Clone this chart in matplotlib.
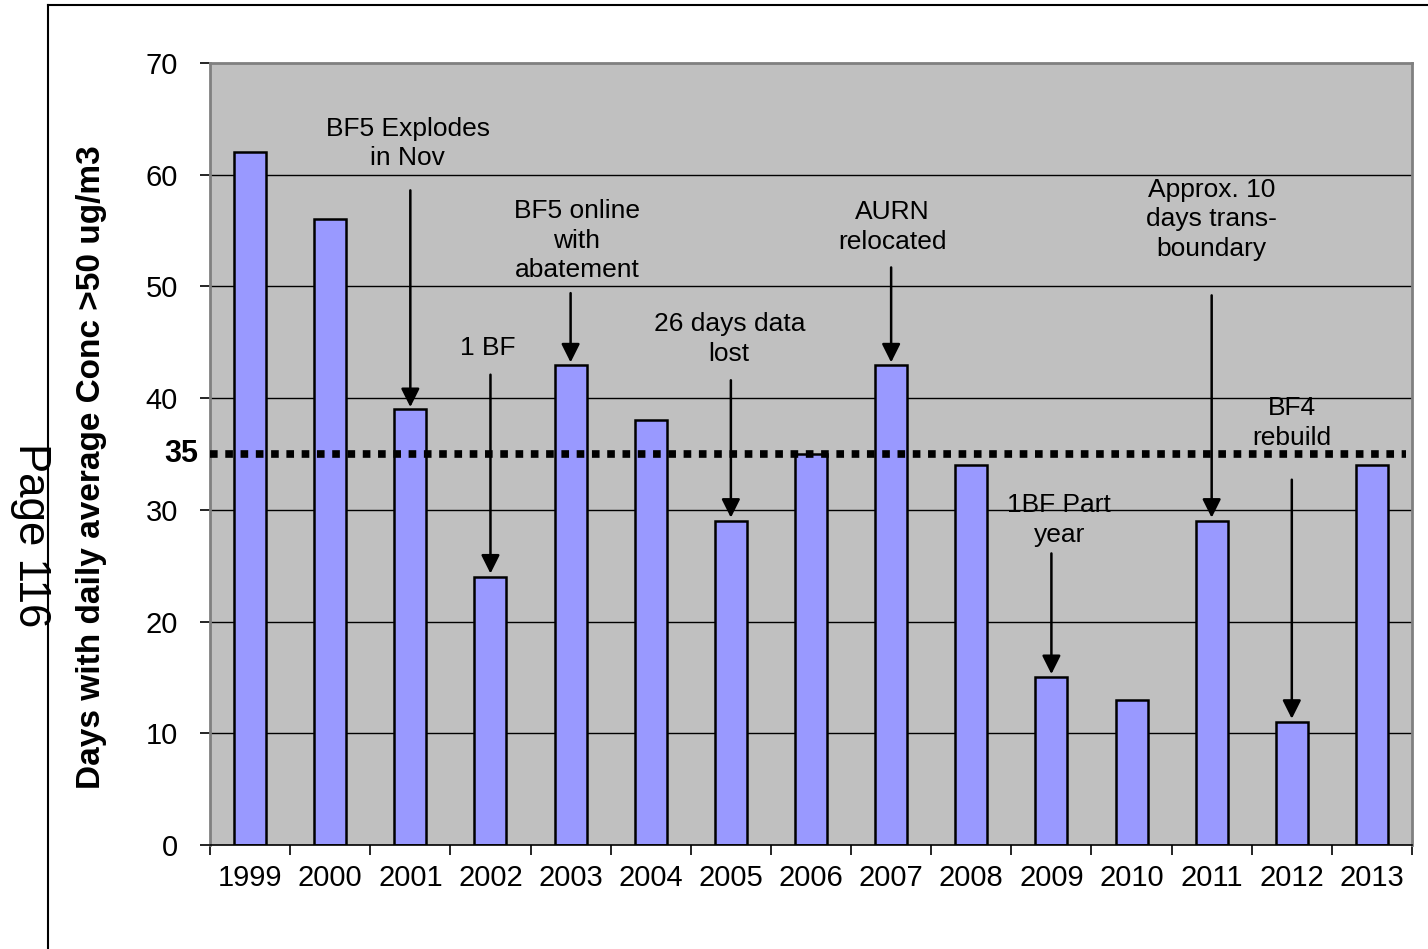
import matplotlib
matplotlib.use("Agg")
import matplotlib.pyplot as plt
from matplotlib.lines import Line2D

plt.rcParams['font.family'] = ['Liberation Sans', 'DejaVu Sans']

years = ['1999', '2000', '2001', '2002', '2003', '2004', '2005', '2006',
         '2007', '2008', '2009', '2010', '2011', '2012', '2013']
days = [62, 56, 39, 24, 43, 38, 29, 35, 43, 34, 15, 13, 29, 11, 34]
limit = 35
y_ticks = [0, 10, 20, 30, 40, 50, 60, 70]

# Annotation notes: label text, label position (category idx, value),
# arrow x (category idx), arrow start and end values
notes = [
    ("BF5 Explodes\nin Nov", 1.97, 62.8, 2, 58.6, 39.2),
    ("1 BF", 2.97, 44.5, 3, 42.1, 24.3),
    ("BF5 online\nwith\nabatement", 4.08, 54.1, 4, 49.4, 43.2),
    ("26 days data\nlost", 5.98, 45.3, 6, 41.6, 29.3),
    ("AURN\nrelocated", 8.02, 55.3, 8, 51.7, 43.2),
    ("1BF Part\nyear", 10.1, 29.1, 10, 26.1, 15.3),
    ("Approx. 10\ndays trans-\nboundary", 12.0, 56.0, 12, 49.2, 29.3),
    ("BF4\nrebuild", 13.0, 37.8, 13, 32.7, 11.3),
]

fig = plt.figure(figsize=(14.28, 9.49), dpi=100)
ax = fig.add_axes([210 / 1428, 1 - 845 / 949, 1202 / 1428, 782 / 949])
ax.set_facecolor('#C0C0C0')

x = list(range(len(years)))
ax.set_xlim(0, len(years))
ax.set_ylim(0, 70)

# Horizontal gridlines
for v in y_ticks[1:-1]:
    ax.axhline(v, color='black', lw=1.0, zorder=1)

ax.bar([i + 0.5 for i in x], days, width=0.4, color='#9999FF',
       edgecolor='black', linewidth=1.8, zorder=2)

# Limit line
ax.axhline(limit, xmin=0, xmax=0.995, color='black', lw=5.5,
           linestyle=(0, (1, 1)), dash_capstyle='butt', zorder=3)
ax.text(-0.01, limit, str(limit), transform=ax.get_yaxis_transform(),
        ha='right', va='center', fontsize=22, fontweight='bold')

for label, tx, ty, ax_x, y0, y1 in notes:
    ax.text(tx + 0.5, ty, label, ha='center', va='center', fontsize=19,
            linespacing=1.3, zorder=4)
    ax.annotate('', xy=(ax_x + 0.5, y1), xytext=(ax_x + 0.5, y0),
                arrowprops=dict(arrowstyle='-|>', color='black', lw=1.8,
                                mutation_scale=28, shrinkA=0, shrinkB=0),
                zorder=4)

# Axes styling
for side in ['top', 'right', 'left']:
    ax.spines[side].set_color('#808080')
    ax.spines[side].set_linewidth(2)
ax.spines['bottom'].set_color('black')
ax.spines['bottom'].set_linewidth(1.2)

ax.set_yticks(y_ticks)
ax.set_yticklabels([str(v) for v in y_ticks], fontsize=21)
ax.tick_params(axis='y', direction='out', length=7, width=1.2, pad=16,
               color='black')

ax.set_xticks(range(len(years) + 1))
ax.set_xticklabels([])
ax.set_xticks([i + 0.5 for i in x], minor=True)
ax.set_xticklabels(years, minor=True, fontsize=21)
ax.tick_params(axis='x', which='major', direction='out', length=7,
               width=1.2, color='black')
ax.tick_params(axis='x', which='minor', length=0, pad=14)

ax.set_ylabel('Days with daily average Conc >50 ug/m3', fontsize=24,
              fontweight='bold')
ax.yaxis.set_label_coords(-0.0857, 0.483)

# Page frame and page number
fig.add_artist(Line2D([48 / 1428, 48 / 1428], [0, 1 - 5 / 949],
                      transform=fig.transFigure, color='black', lw=1.5))
fig.add_artist(Line2D([48 / 1428, 1], [1 - 5 / 949, 1 - 5 / 949],
                      transform=fig.transFigure, color='black', lw=1.5))
fig.text(30 / 1428, 1 - 535 / 949, 'Page 116', rotation=-90, fontsize=31.5,
         ha='center', va='center')

fig.savefig('out.png', dpi=100)
